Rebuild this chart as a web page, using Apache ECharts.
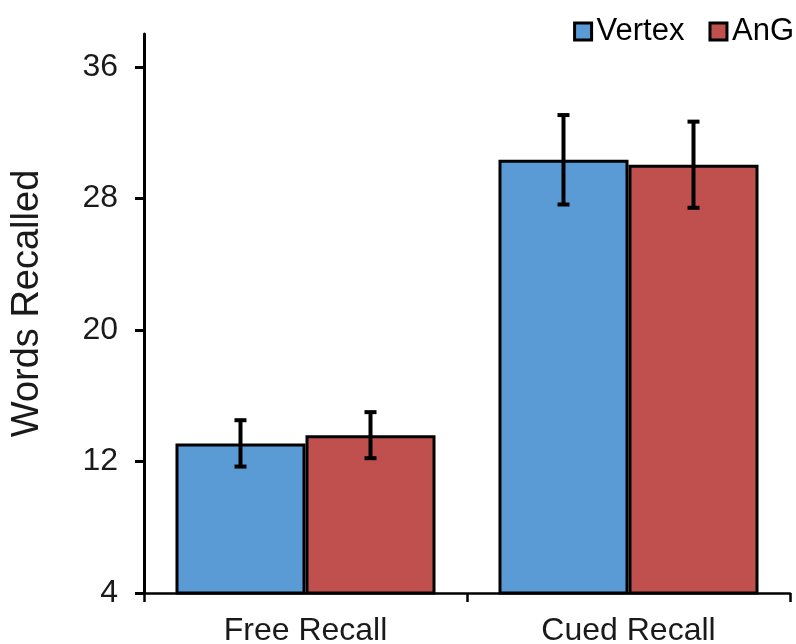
<!DOCTYPE html>
<html>
<head>
<meta charset="utf-8">
<script src="https://cdn.jsdelivr.net/npm/echarts@6/dist/echarts.min.js"></script>
<style>html,body{margin:0;padding:0;background:#fff}#c{width:796px;height:644px}</style>
</head>
<body>
<div id="c"></div>
<script>
var categories = ['Free Recall', 'Cued Recall'];
var seriesNames = ['Vertex', 'AnG'];
var vertexMeans = [13.1, 30.35];
var angMeans = [13.6, 30.05];
var vertexErr = [1.41, 2.72];
var angErr = [1.40, 2.62];
var yTicks = [4, 12, 20, 28, 36];

var FONT = '"Liberation Sans", Arial, sans-serif';
var chart = echarts.init(document.getElementById('c'));

var CAT_GAP = 0.195;

function errRender(which) {
  return function (params, api) {
    var idx = api.value(0);
    var mean = api.value(1);
    var err = api.value(2);
    var band = api.size([1, 0])[0];
    var barW = band * (1 - CAT_GAP) / 2;
    var c = api.coord([idx, mean]);
    var x = c[0] + (which === 0 ? -barW / 2 : barW / 2);
    var top = api.coord([idx, mean + err])[1];
    var bot = api.coord([idx, mean - err])[1];
    var hw = 6;
    var st = { stroke: '#000', lineWidth: 4 };
    return {
      type: 'group',
      children: [
        { type: 'line', shape: { x1: x, y1: top, x2: x, y2: bot }, style: st },
        { type: 'line', shape: { x1: x - hw, y1: top, x2: x + hw, y2: top }, style: st },
        { type: 'line', shape: { x1: x - hw, y1: bot, x2: x + hw, y2: bot }, style: st }
      ]
    };
  };
}

function errData(means, errs) {
  return means.map(function (m, i) { return [i, m, errs[i]]; });
}

chart.setOption({
  animation: false,
  backgroundColor: '#fff',
  textStyle: { fontFamily: FONT },
  legend: {
    data: seriesNames,
    icon: 'rect',
    right: -3,
    top: 11,
    itemWidth: 17,
    itemHeight: 17,
    itemGap: 24,
    itemStyle: { borderColor: '#000', borderWidth: 3 },
    textStyle: { fontSize: 31, color: '#000', fontFamily: FONT, padding: [0, 0, 0, 0] }
  },
  grid: { left: 144, right: 6, top: 34, bottom: 51, containLabel: false, outerBoundsMode: 'none' },
  xAxis: {
    type: 'category',
    data: categories,
    axisLine: { lineStyle: { color: '#000', width: 2.5 } },
    axisTick: { show: true, length: 9, lineStyle: { color: '#000', width: 2.5 } },
    axisLabel: { color: '#1a1a1a', fontSize: 32, fontFamily: FONT, margin: 22 }
  },
  yAxis: {
    type: 'value',
    min: 4,
    max: 38,
    interval: 8,
    name: 'Words Recalled',
    nameLocation: 'middle',
    nameGap: 97,
    nameTextStyle: { fontSize: 38, color: '#1a1a1a', fontFamily: FONT, padding: [0, 0, 0, 20] },
    axisLine: { show: true, lineStyle: { color: '#000', width: 3 } },
    axisTick: { show: true, length: 9, lineStyle: { color: '#000', width: 3 }, customValues: yTicks },
    axisLabel: { color: '#1a1a1a', fontSize: 32, fontFamily: FONT, margin: 26, customValues: yTicks },
    splitLine: { show: false }
  },
  series: [
    {
      name: seriesNames[0], type: 'bar', data: vertexMeans,
      barGap: '0%', barCategoryGap: (CAT_GAP * 100) + '%',
      itemStyle: { color: '#5B9BD5', borderColor: '#000', borderWidth: 3 }
    },
    {
      name: seriesNames[1], type: 'bar', data: angMeans,
      barGap: '0%', barCategoryGap: (CAT_GAP * 100) + '%',
      itemStyle: { color: '#C0504D', borderColor: '#000', borderWidth: 3 }
    },
    {
      type: 'custom', renderItem: errRender(0), data: errData(vertexMeans, vertexErr),
      encode: { x: 0, y: 1 }, z: 10, silent: true
    },
    {
      type: 'custom', renderItem: errRender(1), data: errData(angMeans, angErr),
      encode: { x: 0, y: 1 }, z: 10, silent: true
    }
  ]
});
</script>
</body>
</html>
